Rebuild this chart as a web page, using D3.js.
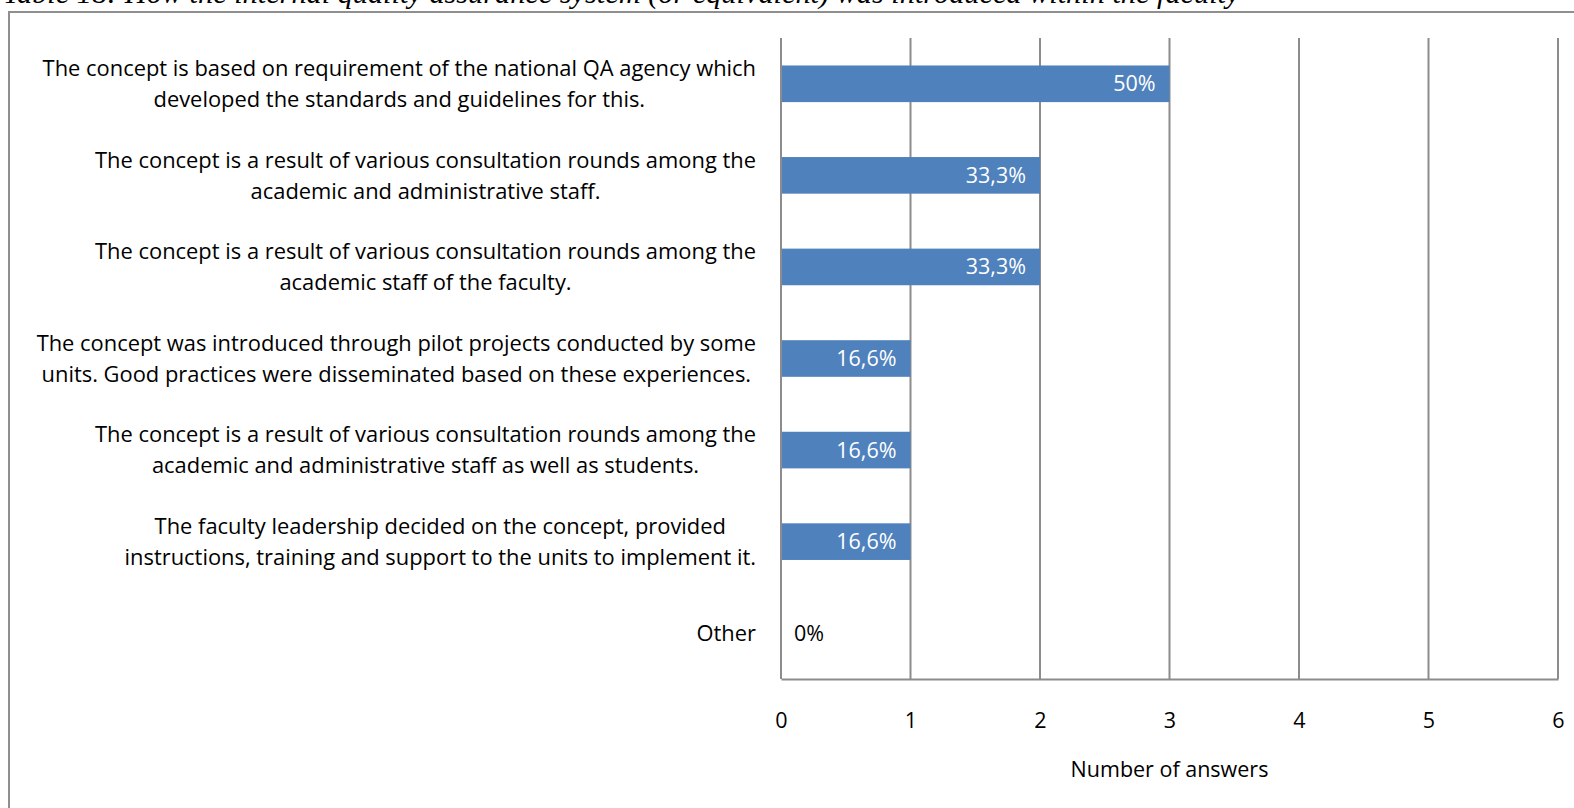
<!DOCTYPE html>
<html>
<head>
<meta charset="utf-8">
<script src="https://cdn.jsdelivr.net/npm/d3@7"></script>
<style>
  html, body { margin: 0; padding: 0; background: #fff; }
  svg { display: block; }
</style>
</head>
<body>
<svg id="chart" width="1574" height="808"></svg>
<script>
// Survey answers: how the internal QA system was introduced
const categories = [
  "The concept is based on requirement of the national QA agency which\ndeveloped the standards and guidelines for this.",
  "The concept is a result of various consultation rounds among the\nacademic and administrative staff.",
  "The concept is a result of various consultation rounds among the\nacademic staff of the faculty.",
  "The concept was introduced through pilot projects conducted by some\nunits. Good practices were disseminated based on these experiences.",
  "The concept is a result of various consultation rounds among the\nacademic and administrative staff as well as students.",
  "The faculty leadership decided on the concept, provided\ninstructions, training and support to the units to implement it.",
  "Other"
];
const answers = [3, 2, 2, 1, 1, 1, 0];
const shareLabels = ["50%", "33,3%", "33,3%", "16,6%", "16,6%", "16,6%", "0%"];
const xTicks = [0, 1, 2, 3, 4, 5, 6];
const captionText = "Table 18: How the internal quality assurance system (or equivalent) was introduced within the faculty";
const axisTitle = "Number of answers";

const svg = d3.select("#chart");
const font = "'Open Sans', Lato, sans-serif";
const gridColor = "#8c8c8c";

// caption above the chart frame (its upper part runs off the top edge)
svg.append("text")
  .attr("x", 3).attr("y", 3)
  .attr("font-family", "'Liberation Serif', serif")
  .attr("font-style", "italic")
  .attr("font-size", 30.3)
  .attr("fill", "#000")
  .text(captionText);

// chart frame
svg.append("rect")
  .attr("x", 9).attr("y", 12)
  .attr("width", 1600).attr("height", 900)
  .attr("fill", "none")
  .attr("stroke", "#8f8f8f")
  .attr("stroke-width", 2);

const plot = { left: 781, right: 1558, top: 38, bottom: 679 };

const x = d3.scaleLinear().domain([0, 6]).range([plot.left, plot.right]);
const y = d3.scaleBand()
  .domain(categories)
  .range([plot.top, plot.bottom])
  .paddingInner(0.6)
  .paddingOuter(0.3);

// vertical gridlines
svg.append("g")
  .selectAll("line")
  .data(xTicks)
  .join("line")
  .attr("x1", d => x(d)).attr("x2", d => x(d))
  .attr("y1", plot.top).attr("y2", plot.bottom)
  .attr("stroke", gridColor)
  .attr("stroke-width", 2);

// bars
svg.append("g")
  .selectAll("rect")
  .data(answers)
  .join("rect")
  .attr("x", x(0))
  .attr("y", (d, i) => y(categories[i]))
  .attr("width", d => x(d) - x(0))
  .attr("height", y.bandwidth())
  .attr("fill", "#4f81bd");

// value axis line and tick labels
const xAxis = d3.axisBottom(x).tickValues(xTicks).tickSize(0).tickPadding(34).tickFormat(d3.format("d"));
const gx = svg.append("g")
  .attr("transform", `translate(0,${plot.bottom})`)
  .call(xAxis);
gx.select(".domain").attr("stroke", gridColor).attr("stroke-width", 2);
gx.selectAll("text")
  .attr("font-family", font)
  .attr("font-size", 21.5)
  .attr("fill", "#000");

// category axis line
svg.append("line")
  .attr("x1", x(0)).attr("x2", x(0))
  .attr("y1", plot.top).attr("y2", plot.bottom)
  .attr("stroke", gridColor)
  .attr("stroke-width", 2);

// data labels at the bar ends
svg.append("g")
  .selectAll("text")
  .data(answers)
  .join("text")
  .attr("x", d => d > 0 ? x(d) - 14 : x(0) + 13)
  .attr("y", (d, i) => y(categories[i]) + y.bandwidth() / 2)
  .attr("dy", "0.35em")
  .attr("text-anchor", d => d > 0 ? "end" : "start")
  .attr("font-family", font)
  .attr("font-size", 21.5)
  .attr("fill", d => d > 0 ? "#fff" : "#000")
  .text((d, i) => shareLabels[i]);

// category labels: wrapped lines centered as a block, block right-aligned to the axis
const lineH = 31;
const labelRight = 756;
const lab = svg.append("g");
categories.forEach((c, i) => {
  const lines = c.split("\n");
  const cy = y(c) + y.bandwidth() / 2;
  const g = lab.append("g");
  const texts = lines.map((ln, k) =>
    g.append("text")
      .attr("y", cy + (k - (lines.length - 1) / 2) * lineH)
      .attr("dy", "0.35em")
      .attr("text-anchor", "middle")
      .attr("font-family", font)
      .attr("font-size", 21.9)
      .attr("fill", "#000")
      .text(ln));
  const w = d3.max(texts, t => t.node().getComputedTextLength());
  texts.forEach(t => t.attr("x", labelRight - w / 2));
});

// value axis title
svg.append("text")
  .attr("x", (plot.left + plot.right) / 2)
  .attr("y", 769)
  .attr("dy", "0.35em")
  .attr("text-anchor", "middle")
  .attr("font-family", font)
  .attr("font-size", 21.5)
  .attr("fill", "#000")
  .text(axisTitle);
</script>
</body>
</html>
